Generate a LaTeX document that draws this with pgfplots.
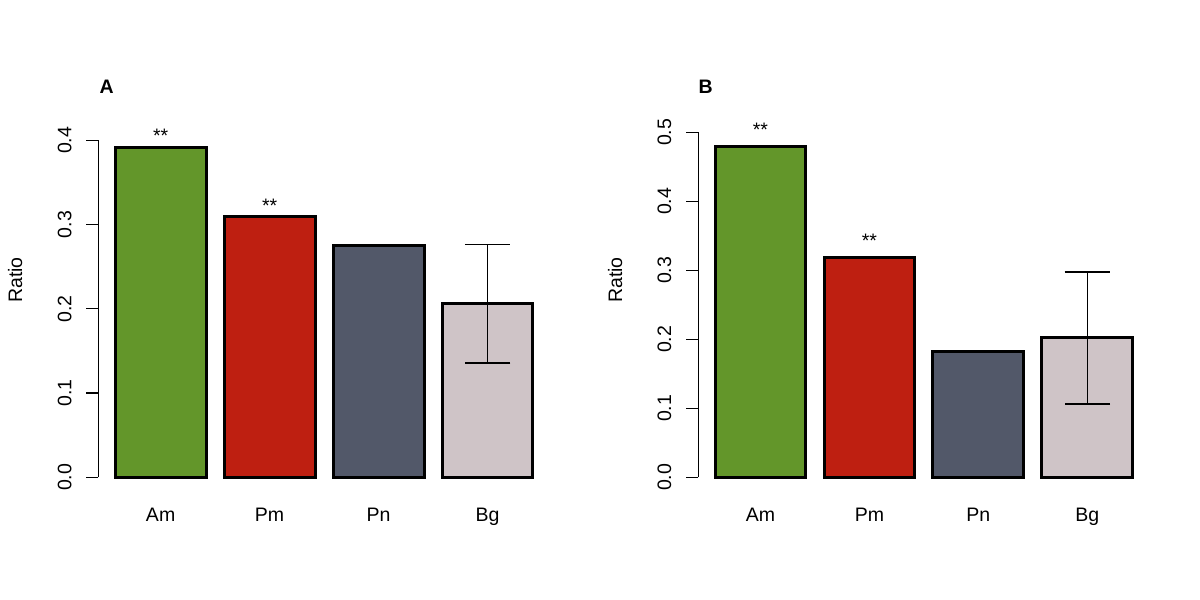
\documentclass[border=0pt]{standalone}
\usepackage{pgfplots}
\pgfplotsset{compat=1.18}
\usepackage{fontspec}
\setmainfont{Liberation Sans}
\newcommand\fsz{\fontsize{9.75}{11.7}\selectfont}

\definecolor{cAm}{RGB}{99,150,42}
\definecolor{cPm}{RGB}{190,31,17}
\definecolor{cPn}{RGB}{82,88,105}
\definecolor{cBg}{RGB}{207,196,199}

\pgfplotsset{
  rpanel/.style={
    scale only axis,
    width=225.6pt,
    xmin=0.016, xmax=4.984,
    ymin=0,
    clip=false,
    axis y line*=left,
    axis x line*=bottom,
    x axis line style={draw=none},
    y axis line style={-, line width=0.6pt},
    xtick={0.7,1.9,3.1,4.3},
    xticklabels={Am,Pm,Pn,Bg},
    xtick style={draw=none},
    tick align=outside,
    major tick length=6.15pt,
    ytick style={black, line width=0.6pt},
    tick label style={font=\fsz},
    /pgf/number format/assume math mode=true,
    yticklabel shift=7.1pt,
    yticklabel style={rotate=90, anchor=south, inner sep=0pt,
      /pgf/number format/.cd, fixed, fixed zerofill, precision=1},
    xticklabel style={anchor=base, inner sep=0pt, yshift=-16.05pt},
  },
  rbar/.style={ybar, bar width=1, bar shift=0pt, draw=black, line width=1.5pt, fill=#1},
  rerr/.style={draw=none, mark=none, line width=0.6pt,
    error bars/.cd, y dir=both, y explicit,
    error bar style={line width=0.6pt, black, solid},
    error mark options={rotate=90, mark size=11.4pt, line width=0.6pt, black}},
}

\begin{document}
\begin{tikzpicture}[font=\fsz]
\path (0,0) rectangle (600pt,300pt);

% panel A
\begin{axis}[rpanel, at={(49.25pt,61.35pt)}, anchor=south west,
  height=168.5pt, ymax=0.4, ytick={0,0.1,0.2,0.3,0.4}]
\addplot[rbar=cAm] coordinates {(0.7,0.392)};
\addplot[rbar=cPm] coordinates {(1.9,0.309)};
\addplot[rbar=cPn] coordinates {(3.1,0.2757)};
\addplot[rbar=cBg] coordinates {(4.3,0.2061)};
\addplot[rerr] coordinates {(4.3,0.2061) +- (0,0.0705)};
\node[anchor=base] at (axis cs:0.7,0.397) {**};
\node[anchor=base] at (axis cs:1.9,0.3147) {**};
\end{axis}

% panel B
\begin{axis}[rpanel, at={(349.15pt,61.35pt)}, anchor=south west,
  height=172.5pt, ymax=0.5, ytick={0,0.1,0.2,0.3,0.4,0.5}]
\addplot[rbar=cAm] coordinates {(0.7,0.480)};
\addplot[rbar=cPm] coordinates {(1.9,0.319)};
\addplot[rbar=cPn] coordinates {(3.1,0.1816)};
\addplot[rbar=cBg] coordinates {(4.3,0.2019)};
\addplot[rerr] coordinates {(4.3,0.2019) +- (0,0.0957)};
\node[anchor=base] at (axis cs:0.7,0.4936) {**};
\node[anchor=base] at (axis cs:1.9,0.3335) {**};
\end{axis}

\node[rotate=90, anchor=base] at (11pt,160pt) {Ratio};
\node[rotate=90, anchor=base] at (311pt,160pt) {Ratio};
\node[anchor=base west, inner sep=0pt, font=\fsz\bfseries] at (49.6pt,253.35pt) {A};
\node[anchor=base west, inner sep=0pt, font=\fsz\bfseries] at (349.15pt,253.35pt) {B};
\end{tikzpicture}
\end{document}
